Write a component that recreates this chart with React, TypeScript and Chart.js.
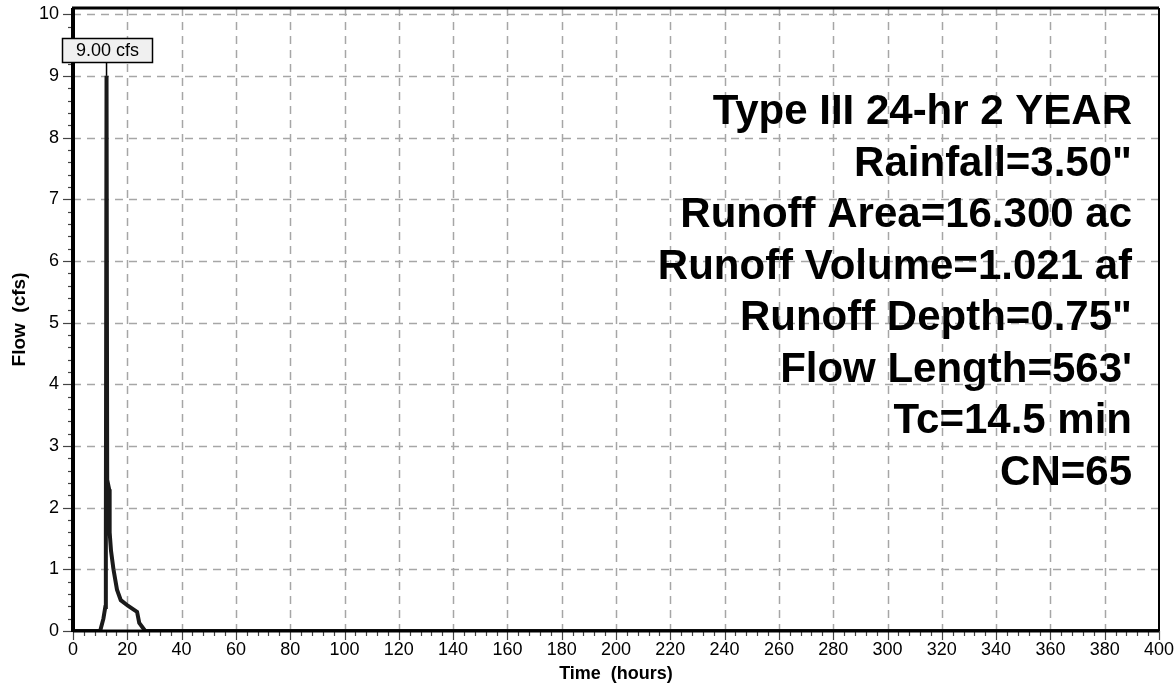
import React, { useEffect, useRef } from "react";
import { Chart, registerables } from "chart.js";

Chart.register(...registerables);

const hours = [0, 10.0, 11.2, 11.9, 12.1, 12.35, 12.6, 13.3, 13.5, 14.0, 14.9, 16.2, 17.6, 20.2, 23.6, 24.4, 26.6, 400];
const flows = [0, 0, 0.2, 0.39, 1.5, 9.0, 2.45, 2.3, 1.6, 1.3, 1.0, 0.67, 0.5, 0.41, 0.31, 0.13, 0, 0];
const yTickValues = [0, 1, 2, 3, 4, 5, 6, 7, 8, 9, 10];
const peakLabel = "9.00 cfs";
const peakHour = 12.35;
const peakFlow = 9.0;
const infoLines = [
  "Type III 24-hr 2 YEAR",
  "Rainfall=3.50\"",
  "Runoff Area=16.300 ac",
  "Runoff Volume=1.021 af",
  "Runoff Depth=0.75\"",
  "Flow Length=563'",
  "Tc=14.5 min",
  "CN=65",
];

const FONT = "'Liberation Sans', Arial, sans-serif";

const decorPlugin = {
  id: "decor",
  beforeDatasetsDraw(chart: any) {
    const { ctx, chartArea: a, scales } = chart;
    const x = scales.x, y = scales.y;
    ctx.save();
    ctx.strokeStyle = "#a6a6a6";
    ctx.lineWidth = 1.5;
    ctx.setLineDash([8, 6]);
    for (let v = 20; v < 400; v += 20) {
      const px = Math.round(x.getPixelForValue(v)) + 0.5;
      ctx.beginPath();
      ctx.moveTo(px, a.top);
      ctx.lineTo(px, a.bottom);
      ctx.stroke();
    }
    for (let v = 1; v <= 10; v++) {
      const py = Math.round(y.getPixelForValue(v)) + 0.5;
      ctx.beginPath();
      ctx.moveTo(a.left, py);
      ctx.lineTo(a.right, py);
      ctx.stroke();
    }
    ctx.restore();
  },
  afterDatasetsDraw(chart: any) {
    const { ctx, chartArea: a, scales } = chart;
    const x = scales.x, y = scales.y;
    ctx.save();
    // ticks
    ctx.strokeStyle = "#444";
    ctx.lineWidth = 1.2;
    for (let v = 0; v <= 400; v += 4) {
      const px = Math.round(x.getPixelForValue(v)) + 0.5;
      const len = v % 20 === 0 ? 9 : 5;
      ctx.beginPath();
      ctx.moveTo(px, a.bottom);
      ctx.lineTo(px, a.bottom + len);
      ctx.stroke();
    }
    for (let i = 0; i <= 50; i++) {
      const v = i * 0.2;
      const py = Math.round(y.getPixelForValue(v)) + 0.5;
      const len = i % 5 === 0 ? 10 : 5;
      ctx.beginPath();
      ctx.moveTo(a.left - len, py);
      ctx.lineTo(a.left, py);
      ctx.stroke();
    }
    // frame
    ctx.strokeStyle = "#000";
    ctx.lineWidth = 3;
    ctx.beginPath();
    ctx.moveTo(a.left, a.bottom);
    ctx.lineTo(a.right, a.bottom);
    ctx.stroke();
    ctx.beginPath();
    ctx.moveTo(a.left - 1, a.top);
    ctx.lineTo(a.right, a.top);
    ctx.stroke();
    ctx.lineWidth = 4;
    ctx.beginPath();
    ctx.moveTo(a.left, a.top);
    ctx.lineTo(a.left, a.bottom + 1);
    ctx.stroke();
    ctx.lineWidth = 2;
    ctx.beginPath();
    ctx.moveTo(a.right, a.top);
    ctx.lineTo(a.right, a.bottom);
    ctx.stroke();

    // info text
    ctx.fillStyle = "#000";
    ctx.font = `bold 42px ${FONT}`;
    ctx.textAlign = "right";
    ctx.textBaseline = "alphabetic";
    infoLines.forEach((t, i) => {
      ctx.fillText(t, 1132, 124 + i * 51.5);
    });

    // peak label
    const pxp = x.getPixelForValue(peakHour);
    const pyp = y.getPixelForValue(peakFlow);
    const bw = 90, bh = 24;
    const bx = Math.round(pxp - bw / 2) + 0.5;
    const by = 38.5;
    ctx.strokeStyle = "#000";
    ctx.lineWidth = 1.5;
    ctx.beginPath();
    ctx.moveTo(pxp, by + bh);
    ctx.lineTo(pxp, pyp);
    ctx.stroke();
    ctx.fillStyle = "#f0f0f0";
    ctx.fillRect(bx, by, bw, bh);
    ctx.strokeRect(bx, by, bw, bh);
    ctx.fillStyle = "#000";
    ctx.font = `18px ${FONT}`;
    ctx.textAlign = "center";
    ctx.textBaseline = "middle";
    ctx.fillText(peakLabel, bx + bw / 2, by + bh / 2 + 1);
    ctx.restore();
  },
};

export default function App() {
  const ref = useRef<HTMLCanvasElement | null>(null);
  useEffect(() => {
    if (!ref.current) return;
    Chart.defaults.font.family = FONT;
    const chart = new Chart(ref.current, {
      type: "line",
      data: {
        datasets: [
          {
            data: hours.map((h, i) => ({ x: h, y: flows[i] })),
            borderColor: "#1a1a1a",
            borderWidth: 4,
            pointRadius: 0,
            tension: 0,
            fill: false,
          },
        ],
      },
      options: {
        animation: false,
        responsive: true,
        maintainAspectRatio: false,
        layout: { padding: { top: 8, right: 17, left: 0, bottom: 0 } },
        plugins: { legend: { display: false }, tooltip: { enabled: false } },
        scales: {
          x: {
            type: "linear",
            min: 0,
            max: 400,
            grid: { display: false, drawTicks: false },
            border: { display: false },
            ticks: {
              stepSize: 20,
              autoSkip: false,
              maxRotation: 0,
              color: "#000",
              padding: 8,
              font: { size: 18 },
            },
            title: {
              display: true,
              text: "Time  (hours)",
              color: "#000",
              font: { size: 18, weight: "bold" },
              padding: { top: 0, bottom: 1 },
            },
            afterFit: (s: any) => {
              s.height = 55;
              s.paddingLeft = 0;
              s.paddingRight = 0;
            },
          },
          y: {
            type: "linear",
            min: 0,
            max: 10.1,
            grid: { display: false, drawTicks: false },
            border: { display: false },
            afterBuildTicks: (s: any) => {
              s.ticks = yTickValues.map((v) => ({ value: v }));
            },
            ticks: {
              color: "#000",
              padding: 14,
              font: { size: 18 },
            },
            title: {
              display: true,
              text: "Flow  (cfs)",
              color: "#000",
              font: { size: 19, weight: "bold" },
              padding: { top: 8, bottom: 0 },
            },
            afterFit: (s: any) => {
              s.width = 73;
              s.paddingTop = 0;
              s.paddingBottom = 0;
            },
          },
        },
      },
      plugins: [decorPlugin],
    });
    return () => chart.destroy();
  }, []);
  return (
    <div style={{ position: "absolute", left: 0, top: 0, width: 1176, height: 686, background: "#fff" }}>
      <canvas ref={ref} />
    </div>
  );
}
